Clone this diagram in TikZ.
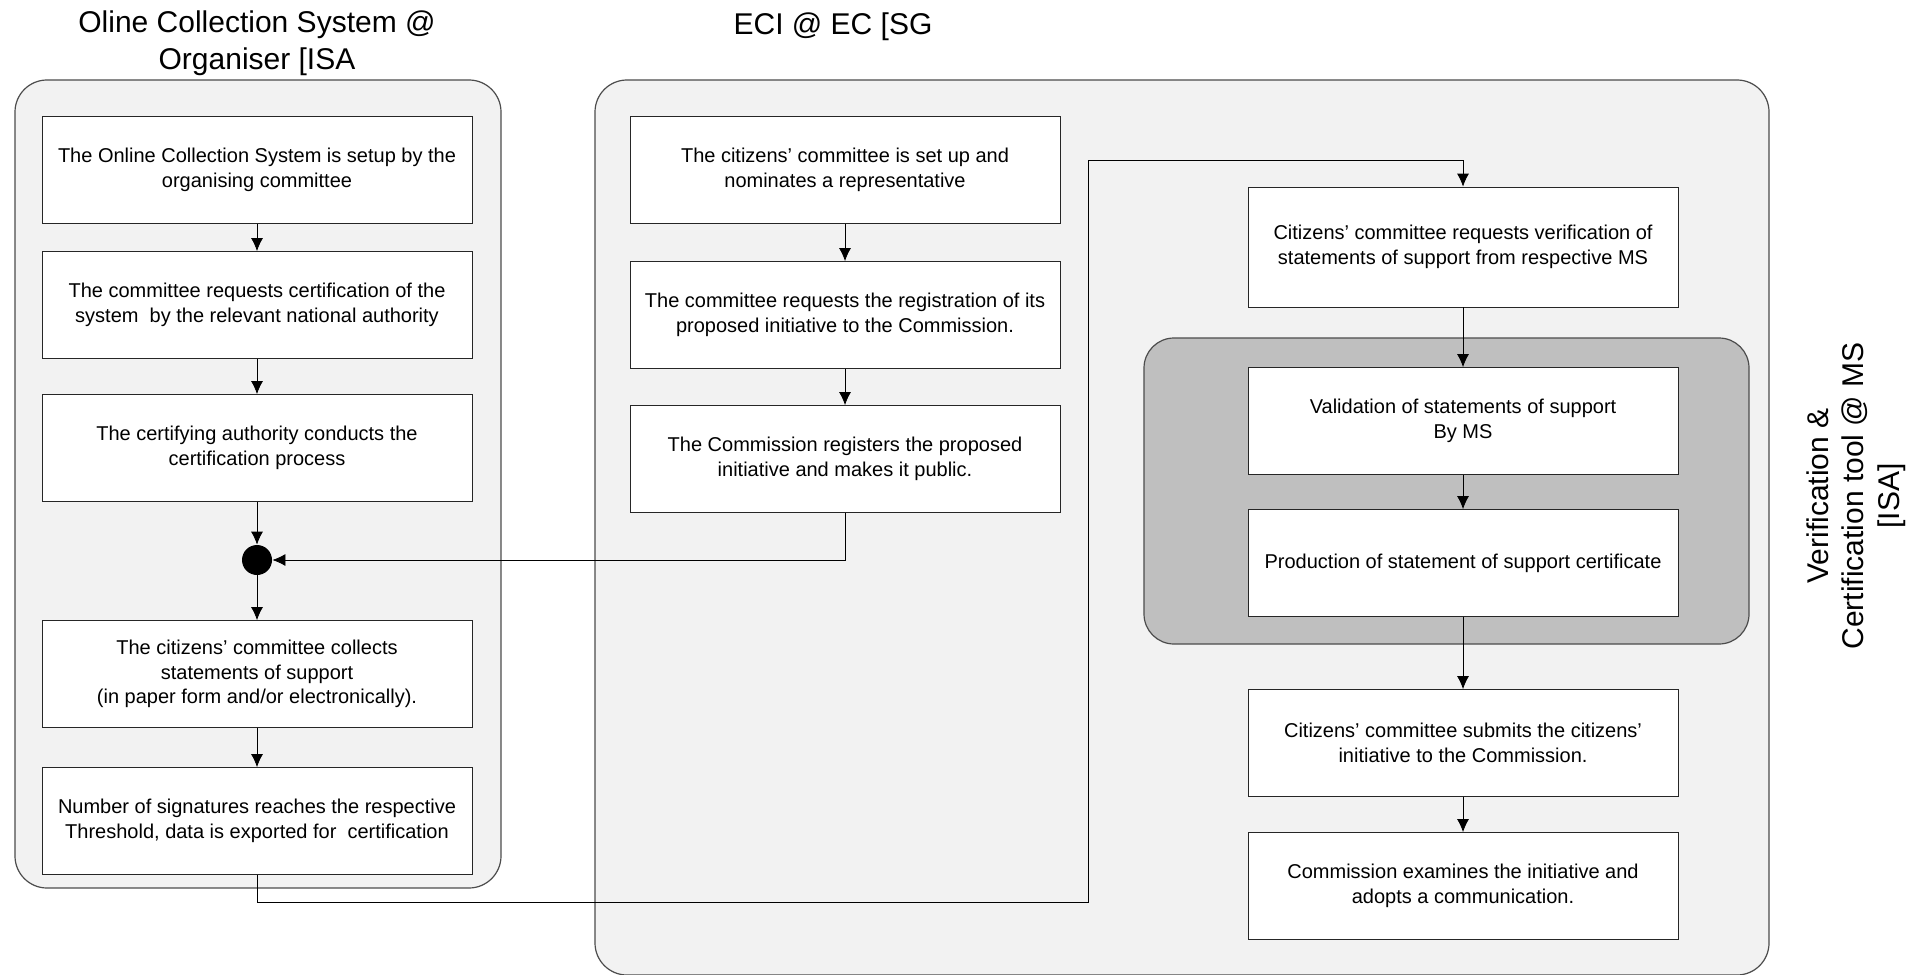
\documentclass[tikz,border=0pt]{standalone}
\usepackage{fontspec}
\setmainfont{Liberation Sans}
\usetikzlibrary{arrows.meta,positioning}

\tikzset{
  lane/.style={draw=black!70, fill=black!5, rounded corners=16pt, line width=0.6pt},
  msgroup/.style={draw=black!70, fill=black!25, rounded corners=15pt, line width=0.6pt},
  stepbox/.style={draw=black!85, fill=white, minimum width=215pt, minimum height=53.5pt,
    align=center, inner sep=2pt, font=\fontsize{10}{12.25}\selectfont},
  lanetitle/.style={align=center, font=\fontsize{15}{18.3}\selectfont},
  joindot/.style={circle, fill=black, minimum size=15pt, inner sep=0pt},
}

\begin{document}
\begin{tikzpicture}[x=0.5pt, y=-0.5pt, >={Latex[length=6.5pt,width=6pt]}]
\useasboundingbox (0,0) rectangle (1921,974);

% swimlanes
\draw[lane] (15,80) rectangle (501,888);
\draw[lane] (595,80) rectangle (1769,975);
\draw[msgroup] (1144,338) rectangle (1749,644);

\node[lanetitle] (osctitle) at (257,43) {Oline Collection System @\\Organiser [ISA};
\node[lanetitle] (ecititle) at (833,27) {ECI @ EC [SG};
\node[lanetitle, rotate=90, font=\fontsize{15}{17.75}\selectfont] (vertitle) at (1856,496)
  {Verification \&\\Certification tool @ MS\\{[ISA]}};

% organiser
\node[stepbox] (l1) at (257,170) {The Online Collection System is setup by the\\organising committee};
\node[stepbox] (l2) at (257,305) {The committee requests certification of the\\system \ by the relevant national authority};
\node[stepbox] (l3) at (257,448) {The certifying authority conducts the\\certification process};
\node[joindot] (dot) at (257,560) {};
\node[stepbox] (l4) at (257,674) {The citizens’ committee collects\\statements of support\\(in paper form and/or electronically).};
\node[stepbox] (l5) at (257,821) {Number of signatures reaches the respective\\Threshold, data is exported for \ certification};

% commission
\node[stepbox] (m1) at (845,170) {The citizens’ committee is set up and\\nominates a representative};
\node[stepbox] (m2) at (845,315) {The committee requests the registration of its\\proposed initiative to the Commission.};
\node[stepbox] (m3) at (845,459) {The Commission registers the proposed\\initiative and makes it public.};

% member states
\node[stepbox, minimum height=60pt] (v1) at (1463,247) {Citizens’ committee requests verification of\\statements of support from respective MS};
\node[stepbox] (v2) at (1463,421) {Validation of statements of support\\By MS};
\node[stepbox] (v3) at (1463,563) {Production of statement of support certificate};
\node[stepbox] (v4) at (1463,743) {Citizens’ committee submits the citizens’\\initiative to the Commission.};
\node[stepbox] (v5) at (1463,886) {Commission examines the initiative and\\adopts a communication.};

% flow
\foreach \a/\b in {l1/l2,l2/l3,l3/dot,dot/l4,l4/l5,m1/m2,m2/m3,v1/v2,v2/v3,v3/v4,v4/v5}
  \draw[->] (\a) -- (\b);
\draw[->] (m3.south) |- (dot.east);
\coordinate (turn1) at (1088,902);
\coordinate (turn2) at (1088,160);
\draw[->] (l5.south) |- (turn1) -- (turn2) -| (v1.north);
\end{tikzpicture}
\end{document}
